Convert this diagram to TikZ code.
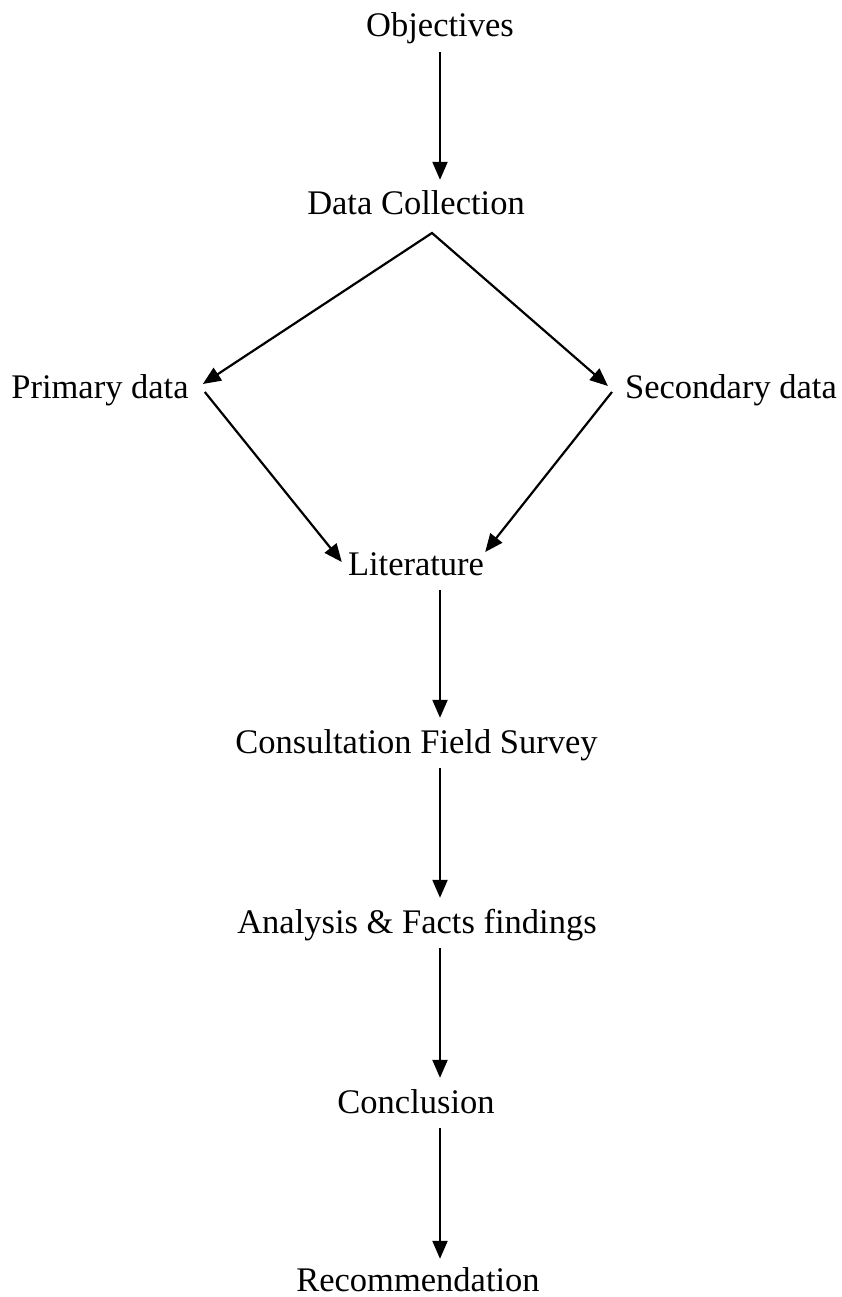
\documentclass[tikz,border=0pt]{standalone}
\usepackage{fontspec}
\setmainfont{Liberation Serif}
\usetikzlibrary{arrows.meta,calc}
\begin{document}
\begin{tikzpicture}[x=1pt,y=1pt,
  lbl/.style={inner sep=0pt, anchor=base, font=\fontsize{34.5}{40}\selectfont, text height=35pt, text depth=15pt},
  arr/.style={-{Triangle[length=18pt,width=15pt]}, line width=2.2pt},
  ln/.style={line width=2.2pt, line join=miter}]
\useasboundingbox (0,0) rectangle (841,-1297);
\coordinate (axis) at (440,0);
\node[lbl] (obj) at (440,-37) {Objectives};
\node[lbl] (dc) at (416,-215) {Data Collection};
\node[lbl] (prim) at (100,-398) {Primary data};
\node[lbl] (sec) at (731,-398) {Secondary data};
\node[lbl] (lit) at (416,-575) {Literature};
\node[lbl] (cfs) at (416.5,-753) {Consultation Field Survey};
\node[lbl] (aff) at (417,-933) {Analysis \& Facts findings};
\node[lbl] (conc) at (416,-1113) {Conclusion};
\node[lbl] (rec) at (418,-1291) {Recommendation};
\coordinate (apex) at ($(dc.base)+(16,-18)$);
\draw[ln, {Triangle[length=18pt,width=15pt]}-{Triangle[length=18pt,width=15pt]}]
  ($(prim.base east)+(14,14)$) -- (apex) -- ($(sec.base west)+(-17,12)$);
\draw[arr] ($(prim.base east)+(16,6)$) -- ($(lit.base west)+(-6,13)$);
\draw[arr] ($(sec.base west)+(-13,6)$) -- ($(lit.base east)+(1,23)$);
\draw[arr] (obj.south -| axis) -- (dc.north -| axis);
\draw[arr] (lit.south -| axis) -- (cfs.north -| axis);
\draw[arr] (cfs.south -| axis) -- (aff.north -| axis);
\draw[arr] (aff.south -| axis) -- (conc.north -| axis);
\draw[arr] (conc.south -| axis) -- ([yshift=-3pt]rec.north -| axis);
\end{tikzpicture}
\end{document}
